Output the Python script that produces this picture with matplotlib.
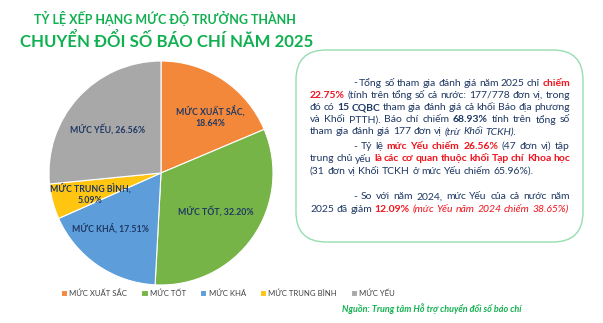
import matplotlib
matplotlib.use("Agg")
import matplotlib.pyplot as plt
import numpy as np
from matplotlib.patches import FancyBboxPatch

# ---------------- data ----------------
categories = ["MỨC XUẤT SẮC", "MỨC TỐT", "MỨC KHÁ", "MỨC TRUNG BÌNH", "MỨC YẾU"]
values = [18.64, 32.20, 17.51, 5.09, 26.56]
slice_labels = ["MỨC XUẤT SẮC,\n18.64%", "MỨC TỐT, 32.20%", "MỨC KHÁ, 17.51%",
                "MỨC TRUNG BÌNH,\n5.09%", "MỨC YẾU, 26.56%"]
title_line1 = "TỶ LỆ XẾP HẠNG MỨC ĐỘ TRƯỞNG THÀNH"
title_line2 = "CHUYỂN ĐỔI SỐ BÁO CHÍ NĂM 2025"
source_text = "Nguồn: Trung tâm Hỗ trợ chuyển đổi số báo chí"

# text box content: lines of (text, style) ; style: n=navy, nb=navy bold, rb=red bold, ni=navy italic, ri=red italic
para_lines = [
    [("- Tổng số tham gia đánh giá năm 2025 chỉ ", "n"), ("chiếm", "rb")],
    [("22.75%", "rb"), (" (tính trên tổng số cả nước: 177/778 đơn vị, trong", "n")],
    [("đó có ", "n"), ("15 CQBC", "nb"), (" tham gia đánh giá cả khối Báo địa phương", "n")],
    [("và Khối PTTH). Báo chí chiếm ", "n"), ("68.93%", "nb"), (" tính trên tổng số", "n")],
    [("tham gia đánh giá 177 đơn vị ", "n"), ("(trừ Khối TCKH).", "ni")],
    [("- Tỷ lệ ", "n"), ("mức Yếu chiếm 26.56%", "rb"), (" (47 đơn vị) tập", "n")],
    [("trung chủ yếu ", "n"), ("là các cơ quan thuộc khối Tạp chí Khoa học", "rb")],
    [("(31 đơn vị Khối TCKH ở mức Yếu chiếm 65.96%).", "n")],
    [("- So với năm 2024, mức Yếu của cả nước năm", "n")],
    [("2025 đã giảm ", "n"), ("12.09%", "rb"), (" (mức Yếu năm 2024 chiếm 38.65%)", "ri")],
]

# ---------------- style ----------------
W, H = 603, 323
colors = ["#F4883A", "#76B447", "#5C9DDA", "#FFC511", "#A8A8A8"]
navy = "#1F3864"
red = "#F0141E"
green = "#10B050"
FONT = "Lato"
plt.rcParams["font.family"] = [FONT, "DejaVu Sans"]

fig = plt.figure(figsize=(W / 100, H / 100), dpi=100)
fig.patch.set_facecolor("white")

# overlay axes in pixel coordinates
ov = fig.add_axes([0, 0, 1, 1])
ov.set_xlim(0, W)
ov.set_ylim(H, 0)
ov.axis("off")

# titles
ov.text(165, 18, title_line1, color=green, fontsize=9.0, fontweight="bold",
        ha="center", va="center")
ov.text(167, 41, title_line2, color=green, fontsize=12.1, fontweight="bold",
        ha="center", va="center")

# pie
cx, cy, r = 161, 173, 112
pax = fig.add_axes([(cx - r) / W, (H - cy - r) / H, 2 * r / W, 2 * r / H])
wedges, _ = pax.pie(values, colors=colors, startangle=90, counterclock=False,
                    wedgeprops=dict(edgecolor="white", linewidth=0.8))
pax.set_xlim(-1, 1)
pax.set_ylim(-1, 1)
pax.set_aspect("equal")
pax.axis("off")

label_dist = [0.67, 0.60, 0.67, 0.66, 0.62]
label_shift = [-7.5, 0, -8, 1.6, 3]
for w, lab, d, s in zip(wedges, slice_labels, label_dist, label_shift):
    ang = np.deg2rad((w.theta1 + w.theta2) / 2 + s)
    pax.text(d * np.cos(ang), d * np.sin(ang), lab, ha="center", va="center",
             fontsize=6.3, fontweight="bold", color=navy, linespacing=1.3)

# legend
leg = fig.legend(wedges, categories, loc="center left",
                 bbox_to_anchor=(57 / W, 1 - 293 / H), ncol=5, frameon=False,
                 fontsize=5.6, handlelength=0.8, handleheight=0.8,
                 handletextpad=0.3, columnspacing=1.8, borderpad=0)
for t in leg.get_texts():
    t.set_color("#404040")

# source
ov.text(522, 309, source_text, color=green, fontsize=6.5, fontweight="bold",
        fontstyle="italic", ha="right", va="center")

# rounded box
box = FancyBboxPatch((296, 50), 287, 192, boxstyle="round,pad=0,rounding_size=30",
                     linewidth=1.0, edgecolor="#96DDB0", facecolor="white",
                     transform=ov.transData, zorder=1)
ov.add_patch(box)

# justified text layout
styles = {
    "n": dict(color=navy, fontweight="normal", fontstyle="normal"),
    "nb": dict(color=navy, fontweight="bold", fontstyle="normal"),
    "rb": dict(color=red, fontweight="bold", fontstyle="normal"),
    "ni": dict(color=navy, fontweight="normal", fontstyle="italic"),
    "ri": dict(color=red, fontweight="normal", fontstyle="italic"),
}
FS = 7.5
line_y = [83, 95.3, 107.6, 120, 132, 146.5, 158.8, 171, 196.7, 209.2]
indent = [True, False, False, False, False, True, False, False, True, False]
justify = [True, True, True, True, False, True, True, False, True, False]
left_x, right_x, indent_x = 310, 570, 353

renderer = fig.canvas.get_renderer()


def measure(txt, st):
    t = ov.text(0, 0, txt, fontsize=FS, **styles[st])
    bb = t.get_window_extent(renderer)
    t.remove()
    return bb.width


space_w = measure("a a", "n") - measure("aa", "n")

for segs, y, ind, jus in zip(para_lines, line_y, indent, justify):
    # split line into words, each word a list of (piece, style)
    groups = []
    cur = []
    for txt, st in segs:
        buf = ""
        for ch in txt:
            if ch == " ":
                if buf:
                    cur.append((buf, st))
                    buf = ""
                if cur:
                    groups.append(cur)
                    cur = []
            else:
                buf += ch
        if buf:
            cur.append((buf, st))
    if cur:
        groups.append(cur)
    widths = [sum(measure(wd, st) for wd, st in g) for g in groups]
    x0 = indent_x if ind else left_x
    if jus and len(groups) > 1:
        gap = (right_x - x0 - sum(widths)) / (len(groups) - 1)
    else:
        gap = space_w
    x = x0
    for g, gw in zip(groups, widths):
        xx = x
        for wd, st in g:
            ov.text(xx, y, wd, fontsize=FS, ha="left", va="center", zorder=3, **styles[st])
            xx += measure(wd, st)
        x += gw + gap

fig.savefig("out.png", dpi=100, facecolor="white")
